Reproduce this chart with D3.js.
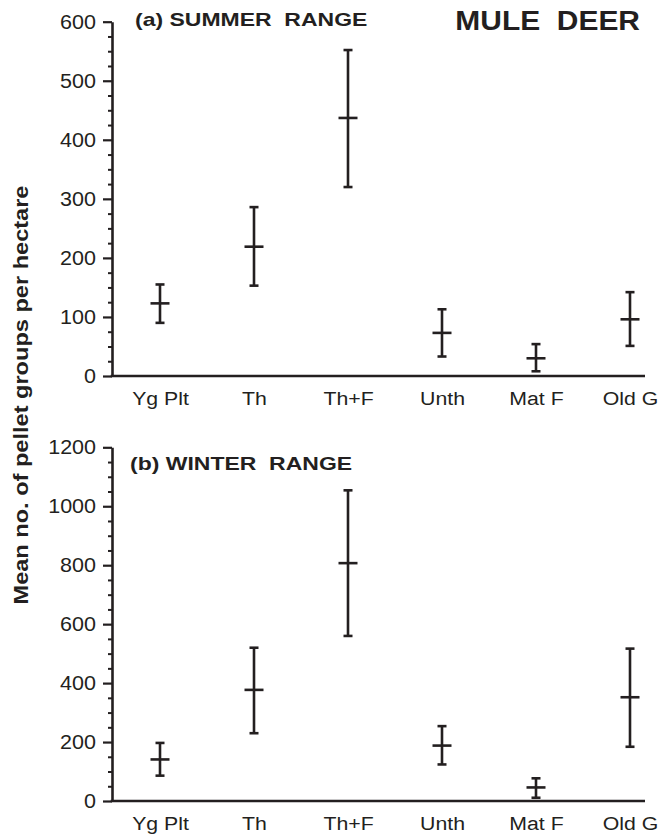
<!DOCTYPE html>
<html>
<head>
<meta charset="utf-8">
<script src="https://cdn.jsdelivr.net/npm/d3@7"></script>
<style>
  html, body { margin: 0; padding: 0; background: #ffffff; }
  svg { display: block; font-family: "Liberation Sans", Arial, Helvetica, sans-serif; }
  text { white-space: pre; }
</style>
</head>
<body>
<svg id="chart" width="661" height="836"></svg>
<script>
// ---------- data ----------
const categories = ["Yg Plt", "Th", "Th+F", "Unth", "Mat F", "Old G"];

const summerMean  = [123, 219, 437, 73, 30, 96];
const summerLower = [90, 153, 320, 33, 8, 51];
const summerUpper = [155, 286, 552, 113, 54, 142];

const winterMean  = [141, 377, 807, 188, 46, 352];
const winterLower = [86, 230, 560, 124, 11, 184];
const winterUpper = [197, 520, 1054, 254, 77, 517];

const summerTicks = [0, 100, 200, 300, 400, 500, 600];
const winterTicks = [0, 200, 400, 600, 800, 1000, 1200];
const summerMinor = d3.range(0, 601, 25).filter(v => v % 100 !== 0);
const winterMinor = d3.range(0, 1201, 50).filter(v => v % 200 !== 0);

const titleA = "(a) SUMMER  RANGE";
const titleB = "(b) WINTER  RANGE";
const mainTitle = "MULE  DEER";
const yLabel = "Mean no. of pellet groups per hectare";

// ---------- drawing ----------
const ink = "#231f20";
const svg = d3.select("#chart");

const axisX0 = 112, axisX1 = 645;
const x = d3.scalePoint().domain(categories).range([160, 630]);

function panel(cfg) {
  const y = d3.scaleLinear().domain(cfg.domain).range([cfg.bottom, cfg.top]);
  const g = svg.append("g");

  // minor ticks
  const minor = g.append("g")
    .attr("transform", `translate(${axisX0},0)`)
    .call(d3.axisLeft(y).tickValues(cfg.minor).tickSize(4).tickSizeOuter(0).tickFormat(""));
  minor.select(".domain").remove();
  minor.selectAll("line").attr("stroke", ink).attr("stroke-width", 2);

  // major ticks + axis line
  const sy = 1.05;
  const ya = g.append("g")
    .attr("transform", `translate(${axisX0},0)`)
    .call(d3.axisLeft(y).tickValues(cfg.ticks).tickSize(9).tickSizeOuter(0)
      .tickPadding(7).tickFormat(d3.format("d")));
  ya.select(".domain").attr("stroke", ink).attr("stroke-width", 2.6);
  ya.selectAll(".tick line").attr("stroke", ink).attr("stroke-width", 2.2);
  ya.selectAll(".tick text")
    .attr("fill", ink)
    .attr("font-size", 20.5)
    .attr("x", -16 / sy)
    .attr("transform", `scale(${sy},1)`);

  // x axis
  g.append("line")
    .attr("x1", axisX0 - 1.3).attr("x2", axisX1)
    .attr("y1", y(0)).attr("y2", y(0))
    .attr("stroke", ink).attr("stroke-width", 2.6);

  const xa = g.append("g")
    .attr("transform", `translate(0,${y(0)})`)
    .call(d3.axisBottom(x).tickSize(0));
  xa.select(".domain").remove();
  xa.selectAll(".tick text")
    .attr("fill", ink)
    .attr("font-size", 19)
    .attr("y", 29.5)
    .attr("dy", 0)
    .attr("transform", "scale(1.12,1)");
  xa.attr("font-family", null);
  ya.attr("font-family", null);

  // error bars
  const bars = g.append("g").selectAll("g")
    .data(categories.map((c, i) => ({c, m: cfg.mean[i], lo: cfg.lower[i], hi: cfg.upper[i]})))
    .join("g")
    .attr("stroke", ink)
    .attr("stroke-width", 2.6);
  bars.append("line")
    .attr("x1", d => x(d.c)).attr("x2", d => x(d.c))
    .attr("y1", d => y(d.lo)).attr("y2", d => y(d.hi));
  bars.append("line")
    .attr("x1", d => x(d.c) - 4.5).attr("x2", d => x(d.c) + 4.5)
    .attr("y1", d => y(d.lo)).attr("y2", d => y(d.lo));
  bars.append("line")
    .attr("x1", d => x(d.c) - 4.5).attr("x2", d => x(d.c) + 4.5)
    .attr("y1", d => y(d.hi)).attr("y2", d => y(d.hi));
  bars.append("line")
    .attr("x1", d => x(d.c) - 9.5).attr("x2", d => x(d.c) + 9.5)
    .attr("y1", d => y(d.m)).attr("y2", d => y(d.m));

  // panel title
  g.append("text")
    .attr("transform", `translate(${cfg.titleX},${cfg.titleY}) scale(1.21,1)`)
    .attr("font-size", 19)
    .attr("font-weight", "bold")
    .attr("fill", ink)
    .text(cfg.title);
}

panel({
  domain: [0, 600], top: 21.7, bottom: 376,
  ticks: summerTicks, minor: summerMinor,
  mean: summerMean, lower: summerLower, upper: summerUpper,
  title: titleA, titleX: 135, titleY: 25.5
});

panel({
  domain: [0, 1200], top: 447.3, bottom: 801,
  ticks: winterTicks, minor: winterMinor,
  mean: winterMean, lower: winterLower, upper: winterUpper,
  title: titleB, titleX: 130, titleY: 470
});

// main title
svg.append("text")
  .attr("transform", "translate(640,30) scale(1.07,1)")
  .attr("text-anchor", "end")
  .attr("font-size", 28)
  .attr("font-weight", "bold")
  .attr("fill", ink)
  .text(mainTitle);

// y axis label
svg.append("text")
  .attr("transform", "translate(28,395) rotate(-90) scale(1.15,1)")
  .attr("text-anchor", "middle")
  .attr("font-size", 20.5)
  .attr("font-weight", "bold")
  .attr("fill", ink)
  .text(yLabel);
</script>
</body>
</html>
